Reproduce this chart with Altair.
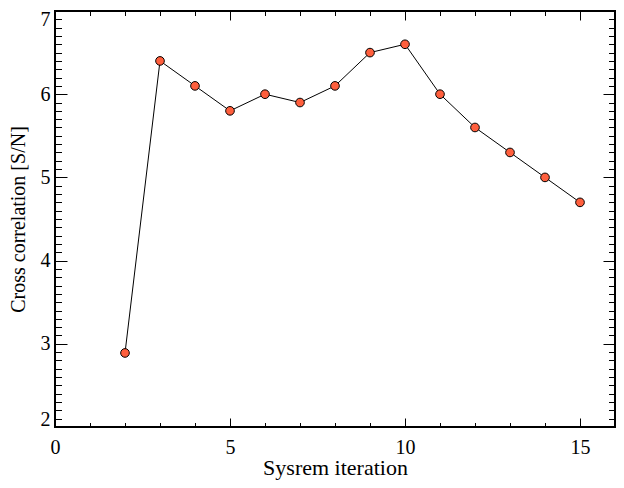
import altair as alt
import pandas as pd

# Data
iterations = [2, 3, 4, 5, 6, 7, 8, 9, 10, 11, 12, 13, 14, 15]
snr = [2.89, 6.40, 6.10, 5.80, 6.00, 5.90, 6.10, 6.50, 6.60, 6.00, 5.60, 5.30, 5.00, 4.70]

x_major = [0, 5, 10, 15]
x_minor = [1, 2, 3, 4, 6, 7, 8, 9, 11, 12, 13, 14, 16]
y_major = [2, 3, 4, 5, 6, 7]
y_minor = [round(2 + i * 0.1, 1) for i in range(1, 50) if i % 10 != 0]

W, H = 560, 416
FONT = "Liberation Serif"

df = pd.DataFrame({"iteration": iterations, "snr": snr})

xscale = alt.Scale(domain=[0, 16], nice=False, zero=False)
yscale = alt.Scale(domain=[2, 7], nice=False, zero=False)

common = dict(domain=False, ticks=False, grid=True, gridColor="black",
              gridOpacity=1, gridWidth=1, labelOverlap=False)

x_axis_major = alt.Axis(
    orient="bottom", values=x_major, format="d", labelFlush=False,
    labelFont=FONT, labelFontSize=20, labelColor="black", labelPadding=10,
    title="Sysrem iteration", titleFont=FONT, titleFontSize=22,
    titleFontWeight="normal", titleColor="black", titlePadding=0,
    gridDash=[9, H - 18, 9], **common)
y_axis_major = alt.Axis(
    orient="left", values=y_major, format="d",
    labelFlush=True, labelFlushOffset=2,
    labelFont=FONT, labelFontSize=20, labelColor="black", labelPadding=5,
    title="Cross correlation [S/N]", titleFont=FONT, titleFontSize=20,
    titleFontWeight="normal", titleColor="black", titlePadding=12,
    gridDash=[12, W - 24, 12], **common)
x_axis_minor = alt.Axis(orient="bottom", values=x_minor, labels=False, title="",
                        labelFlush=False, gridDash=[4.5, H - 9, 4.5], **common)
y_axis_minor = alt.Axis(orient="left", values=y_minor, labels=False, title="",
                        labelFlush=False, gridDash=[6.5, W - 13, 6.5], **common)

minor = alt.Chart(df).mark_point(opacity=0).encode(
    x=alt.X("iteration:Q", scale=xscale, axis=x_axis_minor),
    y=alt.Y("snr:Q", scale=yscale, axis=y_axis_minor),
)
line = alt.Chart(df).mark_line(color="black", strokeWidth=1).encode(
    x=alt.X("iteration:Q", scale=xscale, axis=x_axis_major),
    y=alt.Y("snr:Q", scale=yscale, axis=y_axis_major),
)
pts = alt.Chart(df).mark_circle(size=75, color="#FF5F3D", stroke="black",
                                strokeWidth=1, opacity=1).encode(
    x=alt.X("iteration:Q", scale=xscale, axis=None),
    y=alt.Y("snr:Q", scale=yscale, axis=None),
)

chart = (
    alt.layer(minor, line, pts)
    .resolve_axis(x="independent", y="independent")
    .properties(
        width=W, height=H,
        padding={"left": 47, "top": 3, "right": 1, "bottom": 53},
        autosize=alt.AutoSizeParams(type="none"),
        background="white",
    )
    .configure_view(stroke="black", strokeWidth=2)
)

chart.save("out.html", embed_options={"renderer": "svg", "actions": False})
